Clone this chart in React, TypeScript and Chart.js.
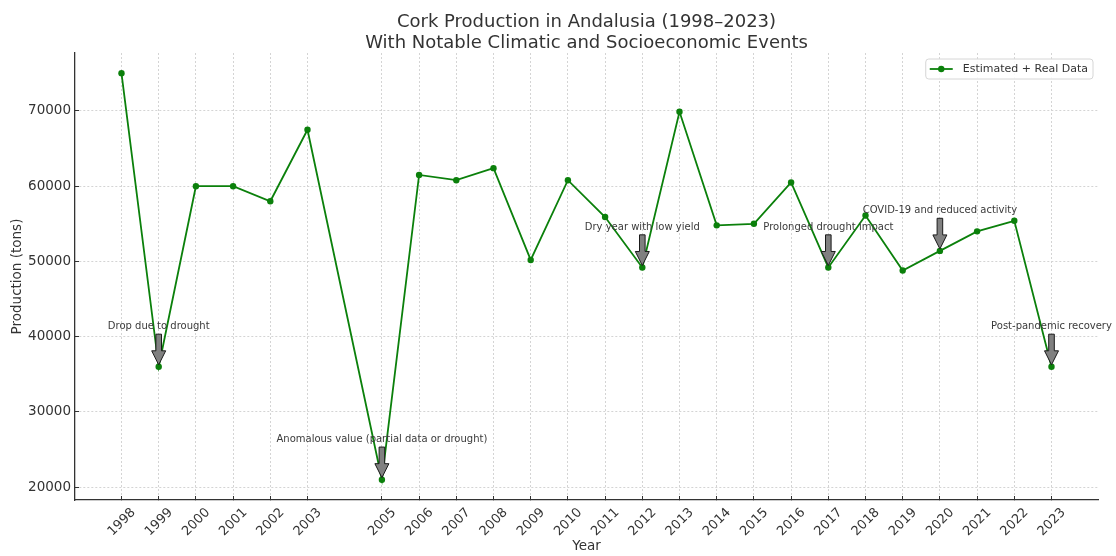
import React, { useEffect, useRef } from "react";
import { Chart, registerables } from "chart.js";

Chart.register(...registerables);

// ---- Data ----
const years = [
  1998, 1999, 2000, 2001, 2002, 2003, 2005, 2006, 2007, 2008, 2009, 2010, 2011,
  2012, 2013, 2014, 2015, 2016, 2017, 2018, 2019, 2020, 2021, 2022, 2023,
];
const production = [
  75000, 36000, 60000, 60000, 58000, 67500, 21000, 61500, 60800, 62400, 50200,
  60800, 55900, 49200, 69900, 54800, 55000, 60500, 49200, 56100, 48800, 51400,
  54000, 55400, 36000,
];
const yTicks = [20000, 30000, 40000, 50000, 60000, 70000];
const titleLines = [
  "Cork Production in Andalusia (1998–2023)",
  "With Notable Climatic and Socioeconomic Events",
];
const seriesLabel = "Estimated + Real Data";
const xAxisTitle = "Year";
const yAxisTitle = "Production (tons)";
const eventYears = [1999, 2005, 2012, 2017, 2020, 2023];
const eventLabels = [
  "Drop due to drought",
  "Anomalous value (partial data or drought)",
  "Dry year with low yield",
  "Prolonged drought impact",
  "COVID-19 and reduced activity",
  "Post-pandemic recovery",
];
const eventTextOffset = 5000;

// ---- Styles ----
const FONT = "'DejaVu Sans', Verdana, sans-serif";
const TEXT = "#333333";
const GREEN = "#0b800b";
const GRID = "#d4d4d4";

export default function App() {
  const ref = useRef<HTMLCanvasElement>(null);

  useEffect(() => {
    const canvas = ref.current;
    if (!canvas) return;

    const xSpan = years[years.length - 1] - years[0];
    const xMin = years[0] - xSpan * 0.05;
    const xMax = years[years.length - 1] + xSpan * 0.05;
    const pMin = Math.min(...production);
    const pMax = Math.max(...production);
    const ySpan = pMax - pMin;
    const yMin = pMin - ySpan * 0.05;
    const yMax = pMax + ySpan * 0.05;

    const decor = {
      id: "decor",
      afterDatasetsDraw(chart: any) {
        const { ctx, scales } = chart;
        const xs = scales.x;
        const ys = scales.y;
        ctx.save();
        eventYears.forEach((yr, k) => {
          const idx = years.indexOf(yr);
          const v = production[idx];
          const px = xs.getPixelForValue(yr);
          const py = ys.getPixelForValue(v);
          const ty = ys.getPixelForValue(v + eventTextOffset);
          const top = ty + 5;
          const tip = py - 2;
          const shaftW = 2.8;
          const headW = 7;
          const headL = 14;
          ctx.beginPath();
          ctx.moveTo(px - shaftW, top);
          ctx.lineTo(px + shaftW, top);
          ctx.lineTo(px + shaftW, tip - headL);
          ctx.lineTo(px + headW, tip - headL);
          ctx.lineTo(px, tip);
          ctx.lineTo(px - headW, tip - headL);
          ctx.lineTo(px - shaftW, tip - headL);
          ctx.closePath();
          ctx.fillStyle = "#808080";
          ctx.fill();
          ctx.strokeStyle = "#1a1a1a";
          ctx.lineWidth = 1;
          ctx.stroke();

          ctx.font = `10px ${FONT}`;
          ctx.fillStyle = "#3a3a3a";
          ctx.textAlign = "center";
          ctx.textBaseline = "alphabetic";
          ctx.fillText(eventLabels[k], px, ty);
        });
        ctx.restore();
      },
      afterDraw(chart: any) {
        const { ctx, chartArea } = chart;
        ctx.save();
        // Title
        const cx = (chartArea.left + chartArea.right) / 2;
        ctx.font = `18px ${FONT}`;
        ctx.fillStyle = TEXT;
        ctx.textAlign = "center";
        ctx.textBaseline = "alphabetic";
        ctx.fillText(titleLines[0], cx, 27);
        ctx.fillText(titleLines[1], cx, 48);

        // Legend
        ctx.font = `11px ${FONT}`;
        const tw = ctx.measureText(seriesLabel).width;
        const boxRight = chartArea.right - 5;
        const boxTop = chartArea.top + 6;
        const boxH = 20;
        const boxW = tw + 42;
        const boxLeft = boxRight - boxW;
        const r = 3;
        ctx.beginPath();
        ctx.moveTo(boxLeft + r, boxTop);
        ctx.lineTo(boxRight - r, boxTop);
        ctx.quadraticCurveTo(boxRight, boxTop, boxRight, boxTop + r);
        ctx.lineTo(boxRight, boxTop + boxH - r);
        ctx.quadraticCurveTo(boxRight, boxTop + boxH, boxRight - r, boxTop + boxH);
        ctx.lineTo(boxLeft + r, boxTop + boxH);
        ctx.quadraticCurveTo(boxLeft, boxTop + boxH, boxLeft, boxTop + boxH - r);
        ctx.lineTo(boxLeft, boxTop + r);
        ctx.quadraticCurveTo(boxLeft, boxTop, boxLeft + r, boxTop);
        ctx.closePath();
        ctx.fillStyle = "rgba(255,255,255,0.85)";
        ctx.fill();
        ctx.strokeStyle = "#d6d6d6";
        ctx.lineWidth = 1;
        ctx.stroke();

        const ly = boxTop + boxH / 2;
        ctx.beginPath();
        ctx.moveTo(boxLeft + 4, ly);
        ctx.lineTo(boxLeft + 27, ly);
        ctx.strokeStyle = GREEN;
        ctx.lineWidth = 1.8;
        ctx.stroke();
        ctx.beginPath();
        ctx.arc(boxLeft + 15.5, ly, 3.2, 0, Math.PI * 2);
        ctx.fillStyle = GREEN;
        ctx.fill();

        ctx.fillStyle = TEXT;
        ctx.textAlign = "left";
        ctx.textBaseline = "middle";
        ctx.fillText(seriesLabel, boxLeft + 37, ly + 0.5);
        ctx.restore();
      },
    };

    const chart = new Chart(canvas, {
      type: "line",
      data: {
        datasets: [
          {
            label: seriesLabel,
            data: years.map((yr, i) => ({ x: yr, y: production[i] })),
            borderColor: GREEN,
            backgroundColor: GREEN,
            pointBackgroundColor: GREEN,
            pointBorderColor: GREEN,
            borderWidth: 1.8,
            pointRadius: 3.2,
            pointBorderWidth: 0,
            tension: 0,
            fill: false,
          },
        ],
      },
      options: {
        animation: false,
        responsive: true,
        maintainAspectRatio: false,
        devicePixelRatio: 1,
        layout: { padding: { top: 53, right: 18, left: 0, bottom: 0 } },
        plugins: {
          legend: { display: false },
          tooltip: { enabled: false },
          title: { display: false },
        },
        scales: {
          x: {
            type: "linear",
            min: xMin,
            max: xMax,
            afterBuildTicks: (s: any) => {
              s.ticks = years.map((v) => ({ value: v }));
            },
            afterFit: (s: any) => {
              s.height = 56;
            },
            ticks: {
              autoSkip: false,
              minRotation: 45,
              maxRotation: 45,
              includeBounds: false,
              labelOffset: 12,
              padding: 9,
              color: TEXT,
              font: { family: FONT, size: 13 },
              callback: (v: any) => String(v),
            },
            grid: {
              color: GRID,
              lineWidth: 1,
              tickLength: -4,
              tickColor: TEXT,
              tickWidth: 1,
            },
            border: { display: true, color: "#333333", width: 1.3, dash: [2, 2] },
            title: {
              display: true,
              text: xAxisTitle,
              color: TEXT,
              font: { family: FONT, size: 13.5 },
              padding: { top: 0, bottom: 1.2 },
            },
          },
          y: {
            type: "linear",
            min: yMin,
            max: yMax,
            afterBuildTicks: (s: any) => {
              s.ticks = yTicks.map((v) => ({ value: v }));
            },
            afterFit: (s: any) => {
              s.width = 75;
            },
            ticks: {
              includeBounds: false,
              padding: 8,
              color: TEXT,
              font: { family: FONT, size: 13.5 },
              callback: (v: any) => String(v),
            },
            grid: {
              color: GRID,
              lineWidth: 1,
              tickLength: -4,
              tickColor: TEXT,
              tickWidth: 1,
            },
            border: { display: true, color: "#333333", width: 1.3, dash: [2, 2] },
            title: {
              display: true,
              text: yAxisTitle,
              color: TEXT,
              font: { family: FONT, size: 13.5 },
              padding: { top: 9, bottom: 0 },
            },
          },
        },
      } as any,
      plugins: [decor],
    });

    return () => chart.destroy();
  }, []);

  return (
    <div style={{ position: "fixed", left: 0, top: 0, width: 1116, height: 556 }}>
      <canvas ref={ref} />
    </div>
  );
}
